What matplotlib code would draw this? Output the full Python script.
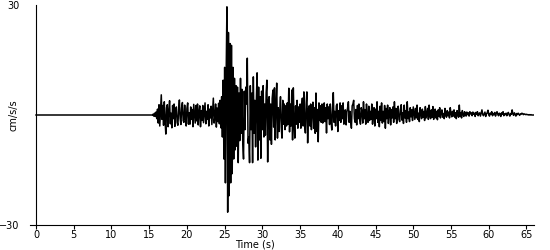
import numpy as np
import matplotlib.pyplot as plt

# Recorded acceleration (cm/s/s), sampled every 0.1 s from the onset
onset_time = 15.4
dt = 0.1
accel = [
    0.0, 0.2, -0.3, 0.5, -0.4, 0.8, -1.0, 1.6, -2.2, 2.8,              # 15.4
    -3.0, 1.5, 5.5, -1.2, 2.6, -2.8, 3.6, -1.5, -5.2, 2.0,             # 16.4
    2.8, -3.2, 1.0, 3.9, -2.4, 0.5, -3.5, 2.6, -1.0, 3.0,              # 17.4
    -3.1, 1.2, 2.2, -2.0, -2.8, 1.5, 4.1, -1.0, -2.6, 2.0,             # 18.4
    3.4, -1.5, -2.0, 2.7, -0.8, -3.0, 1.8, 3.3, -2.5, 0.6,             # 19.4
    -2.5, 2.2, -1.2, 1.5, -3.2, 2.9, 0.4, -2.2, 2.6, -1.6,             # 20.4
    3.0, -2.7, 0.8, 2.5, -3.2, 1.2, -1.5, 2.6, -2.1, 0.6,              # 21.4
    3.3, -2.4, 1.0, -1.2, 2.8, -3.0, 1.6, -0.8, 2.4, -2.6,             # 22.4
    1.2, 4.6, -2.2, -0.6, 3.0, -3.3, 1.9, -1.8, 3.2, -2.4,             # 23.4
    4.0, -3.5, 5.0, -6.0, 9.5, -12.0, 13.0, -18.5, 11.0, 29.5,         # 24.4
    -26.5, 22.5, -22.0, 19.5, -18.5, 19.0, -16.0, 13.0, -12.0, 10.0,   # 25.4
    -9.5, 8.0, -8.5, 7.6, -13.0, 6.0, -7.0, 10.0, -5.0, 7.0,           # 26.4
    -7.5, -12.0, 6.5, -4.0, 7.6, 3.0, 15.5, -7.7, -6.0, -13.0,         # 27.4
    8.0, -4.0, 6.0, -13.0, 10.4, -5.0, 4.0, -8.7, 4.0, 11.5,           # 28.4
    -12.3, 7.6, -6.8, 5.0, -11.8, 6.5, -4.0, 8.0, -6.0, 3.0,           # 29.4
    -5.5, 6.0, 9.5, -12.8, 4.0, 5.0, -6.8, 3.0, -8.0, 4.5,             # 30.4
    6.8, -3.3, 7.4, -6.8, 3.0, 8.7, -6.3, 2.0, -4.5, 1.0,              # 31.4
    5.0, -3.3, -6.3, 4.0, -2.5, 3.0, -4.0, 2.5, -3.0, 3.3,             # 32.4
    -2.5, 7.3, -4.6, 3.0, -3.0, 6.8, -6.8, 7.4, -2.0, -6.3,            # 33.4
    2.5, -2.5, 4.0, -3.6, 2.2, -2.0, 3.0, -3.6, 2.0, 4.6,              # 34.4
    -3.0, 6.3, -2.5, -4.9, 3.0, 6.3, -7.6, 1.5, 2.5, -3.0,             # 35.4
    3.0, -4.0, 1.5, 3.5, -3.6, 2.0, -5.0, 6.0, -4.5, 1.5,              # 36.4
    -7.3, 3.3, -1.5, 2.5, -2.0, 3.0, -2.2, 1.2, 3.3, -1.8,             # 37.4
    2.0, -4.9, 3.0, -1.0, 2.2, -2.6, 3.0, -1.5, -4.1, 2.0,             # 38.4
    6.1, -2.0, 1.0, -3.0, 2.5, 3.0, -4.5, 1.2, -1.5, 3.3,              # 39.4
    -2.0, 2.5, -1.0, 3.3, -2.5, 1.2, 1.4, -2.7, 0.8, 2.0,              # 40.4
    3.6, -2.0, 1.0, -1.5, -3.6, 2.5, 3.0, 4.0, -1.0, -2.0,             # 41.4
    1.5, -2.7, 2.6, -1.0, 3.0, -1.2, -2.5, 2.0, 1.0, -2.2,             # 42.4
    3.6, -1.0, 1.5, -2.5, 3.0, -0.5, -2.0, 2.4, -1.5, 1.0,             # 43.4
    -1.2, 3.0, -2.5, 0.5, 2.0, -3.0, 1.6, -1.0, 3.6, -2.0,             # 44.4
    1.0, -3.2, 2.4, -1.5, 3.3, -2.2, 1.0, -1.8, 2.6, -3.6,             # 45.4
    1.8, -1.0, 2.7, -2.3, 0.6, 2.0, -2.7, 1.5, -0.8, 2.2,              # 46.4
    -2.0, 3.6, -1.0, 1.8, -2.3, 0.4, 2.4, -1.2, -1.8, 1.5,             # 47.4
    2.8, -1.4, 0.6, -2.3, 2.7, -0.8, 1.2, -2.0, 3.6, -1.0,             # 48.4
    0.8, -1.8, 2.0, -0.5, 1.4, -1.5, 2.2, 0.4, -1.2, 1.8,              # 49.4
    -0.8, 2.7, -1.2, 0.5, -1.8, 2.0, 0.3, -1.0, 1.6, -0.6,             # 50.4
    1.0, -1.5, 2.3, -0.8, 0.6, 1.8, -1.2, 2.7, -0.4, -1.0,             # 51.4
    1.4, -0.6, 2.3, -1.2, 0.5, 1.6, -0.8, 1.0, -1.3, 1.4,              # 52.4
    -0.4, 2.0, -0.8, 0.6, 1.4, -0.6, 0.4, -1.0, 1.8, 0.2,              # 53.4
    -0.6, 1.2, -0.2, 0.8, -0.8, 2.0, 0.4, -0.5, 1.0, -0.3,             # 54.4
    1.4, -0.6, 0.6, -1.0, 1.2, 0.2, -0.6, 2.7, -0.4, 0.6,              # 55.4
    -0.8, 1.2, 0.2, -0.4, 0.9, 0.4, -0.3, 0.8, 0.1, 0.6,               # 56.4
    -0.3, 0.9, 0.3, 0.6, -0.2, 0.8, 0.2, 0.5, -0.4, 0.7,               # 57.4
    0.2, 0.9, -0.2, 0.4, 0.6, -0.3, 0.5, 1.4, 0.2, -0.2,               # 58.4
    0.3, 0.8, -0.4, 0.3, 0.6, 1.3, 0.1, -0.3, 0.5, 0.2,                # 59.4
    0.9, -0.2, 0.4, 0.1, 0.7, -0.3, 0.4, 0.9, 0.2, -0.2,               # 60.4
    0.5, 0.3, -0.4, 0.6, 0.2, 0.9, -0.2, 0.3, 0.1, 0.5,                # 61.4
    -0.2, 0.4, 0.7, 0.1, -0.3, 0.4, 0.2, 1.4, 0.3, -0.1,               # 62.4
    0.6, 0.2, -0.3, 0.4, 0.1, 0.5, 0.2, -0.1, 0.3, 0.2,                # 63.4
    0.5, 0.3, 0.1, 0.3, 0.2, 0.1, 0.2, 0.1, 0.1, 0.0,                  # 64.4
    0.1, 0.0, 0.1, 0.0, 0.0, 0.0, 0.0,                                 # 65.4
]

# Quiet record before the onset
quiet_time = [0.0]
quiet_accel = [0.0]

x_ticks = [0, 5, 10, 15, 20, 25, 30, 35, 40, 45, 50, 55, 60, 65]
y_ticks = [-30, 30]

time = np.concatenate((quiet_time, onset_time + dt * np.arange(len(accel))))
values = np.concatenate((quiet_accel, accel))

fig = plt.figure(figsize=(5.5, 2.5), dpi=100)
ax = fig.add_axes([30 / 550, 25 / 250, 504 / 550, 220 / 250])

ax.plot(time, values, color='black', linewidth=1.1)

ax.set_xlim(-0.8, 66)
ax.set_ylim(-30, 30)
ax.set_xticks(x_ticks)
ax.set_yticks(y_ticks)

# y axis sits at t = 0, x axis line runs a little past it
ax.spines['left'].set_position(('data', 0))
ax.spines['top'].set_visible(False)
ax.spines['right'].set_visible(False)
ax.spines['left'].set_linewidth(0.8)
ax.spines['bottom'].set_linewidth(0.8)

ax.tick_params(axis='x', direction='out', length=3, width=0.8, pad=0.5, labelsize=7)
ax.tick_params(axis='y', length=0, pad=12, labelsize=7)

ax.set_xlabel('Time (s)', fontsize=7)
ax.xaxis.set_label_coords(0.447, -0.066)
ax.set_ylabel('cm/s/s', fontsize=7)
ax.yaxis.set_label_coords(-0.023, 0.5)

plt.savefig('out.png', dpi=100)
